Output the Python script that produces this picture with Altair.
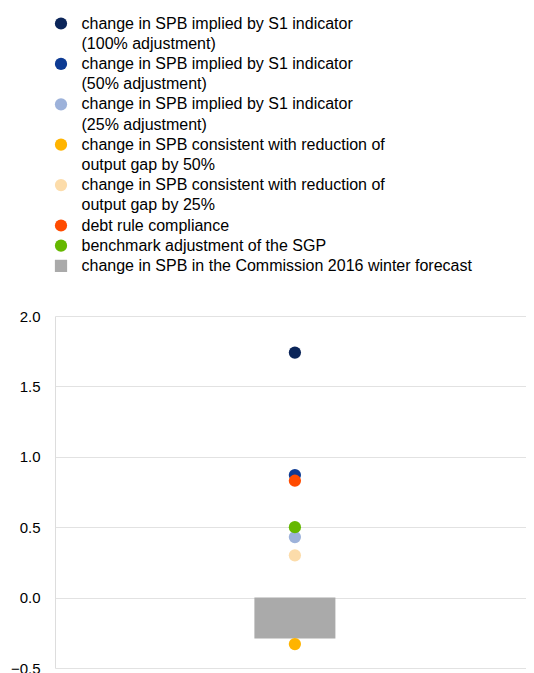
import altair as alt
import pandas as pd

# Each series: list of legend text lines (first line is the main entry)
series_lines = [
    ["change in SPB implied by S1 indicator", "(100% adjustment)"],
    ["change in SPB implied by S1 indicator", "(50% adjustment)"],
    ["change in SPB implied by S1 indicator", "(25% adjustment)"],
    ["change in SPB consistent with reduction of", "output gap by 50%"],
    ["change in SPB consistent with reduction of", "output gap by 25%"],
    ["debt rule compliance"],
    ["benchmark adjustment of the SGP"],
    ["change in SPB in the Commission 2016 winter forecast"],
]
values = [1.74, 0.87, 0.43, -0.33, 0.30, 0.83, 0.50, -0.29]
kinds = ["point"] * 7 + ["bar"]
colors = ["#0b2559", "#0d3b94", "#9db2da", "#ffb400", "#fcdcaa", "#ff4b00", "#65b800", "#aaaaaa"]
shapes = ["circle"] * 7 + ["square"]
y_ticks = [-0.5, 0.0, 0.5, 1.0, 1.5, 2.0]

series = ["|".join(lines) for lines in series_lines]

# legend domain: main entry + continuation lines (continuations get an invisible symbol)
legend_domain, legend_colors, legend_shapes = [], [], []
for name, lines, c, s in zip(series, series_lines, colors, shapes):
    legend_domain.append(name)
    legend_colors.append(c)
    legend_shapes.append(s)
    for extra in lines[1:]:
        legend_domain.append(extra)
        legend_colors.append("rgba(0,0,0,0)")
        legend_shapes.append("circle")

df = pd.DataFrame({
    "cat": ["c"] * len(series),
    "series": series,
    "value": values,
    "kind": kinds,
    "order": list(range(len(series))),
})

font = "Liberation Sans"

legend = alt.Legend(
    title=None,
    orient="none",
    legendX=-2,
    legendY=-300.5,
    labelFont=font,
    labelFontSize=16,
    labelColor="#000000",
    labelLimit=700,
    labelOffset=12.5,
    symbolSize=150,
    symbolStrokeWidth=0,
    rowPadding=4.2,
    labelExpr="split(datum.label, '|')[0]",
)

color = alt.Color("series:N", scale=alt.Scale(domain=legend_domain, range=legend_colors), legend=legend)
x = alt.X("cat:N", axis=None, scale=alt.Scale(paddingInner=0, paddingOuter=1, align=0.514))
y = alt.Y(
    "value:Q",
    title=None,
    scale=alt.Scale(domain=[-0.5, 2.0], nice=False, zero=False),
    axis=alt.Axis(
        values=y_ticks,
        format=".1f",
        labelFont=font,
        labelFontSize=15,
        labelColor="#000000",
        labelPadding=15,
        ticks=False,
        domain=True,
        domainColor="#dddddd",
        gridColor="#e2e2e2",
        gridWidth=1,
        labelFlush=False,
    ),
)

bars = alt.Chart(df).transform_filter(alt.datum.kind == "bar").mark_bar(size=81).encode(
    x=x, y=y, color=color
)
points = alt.Chart(df).transform_filter(alt.datum.kind == "point").mark_point(
    filled=True, size=150, opacity=1
).encode(
    x=x,
    y=y,
    color=color,
    shape=alt.Shape("series:N", scale=alt.Scale(domain=legend_domain, range=legend_shapes), legend=legend),
    order="order:Q",
)

chart = alt.layer(bars, points).properties(
    width=471,
    height=352,
    autosize=alt.AutoSizeParams(type="none"),
    padding={"left": 47, "top": 308, "right": 0, "bottom": 10},
).configure_view(stroke=None).configure_axis(grid=True)

chart.save("out.html", embed_options={"renderer": "svg", "actions": False})
